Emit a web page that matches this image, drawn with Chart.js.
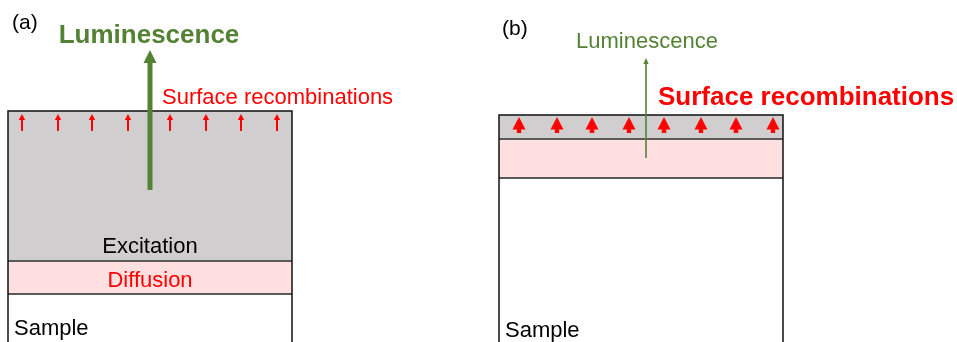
<!DOCTYPE html>
<html>
<head>
<meta charset="utf-8">
<script src="https://cdn.jsdelivr.net/npm/chart.js@4/dist/chart.umd.min.js"></script>
<style>
html,body{margin:0;padding:0;background:#fff;}
#wrap{width:957px;height:342px;}
</style>
</head>
<body>
<div id="wrap"><canvas id="c" width="957" height="342"></canvas></div>
<script>
// ---- diagram data (diagram units: x across, y depth from top) ----
const panelLabels = ['(a)', '(b)'];
const panelLeft = [8, 499];
const panelRight = [292, 783];
const excitationTop = [111, 115];
const excitationBottom = [261, 139];
const diffusionBottom = [294, 178];
const recombArrowX = [
  [22, 58, 92, 128, 170, 206, 241, 277],
  [519, 557, 592, 629, 664, 701, 736, 773]
];
const recombArrowTip = [114, 117];
const recombArrowBase = [131, 133];
const lumArrowX = [150, 646];
const lumArrowBase = [190, 158];
const lumArrowTip = [50, 58];
const layerNames = ['Excitation', 'Diffusion', 'Sample'];
const lumText = 'Luminescence';
const recombText = 'Surface recombinations';

const GREEN = '#548235', RED = '#ff0000', GRAY = '#d0cece', PINK = '#ffdfdf';
const FONT = "'Liberation Sans', Arial, sans-serif";

const diagram = {
  id: 'diagram',
  afterDatasetsDraw(chart) {
    const ctx = chart.ctx, sx = chart.scales.x, sy = chart.scales.y;
    const X = v => sx.getPixelForValue(v), Y = v => sy.getPixelForValue(v);
    const bottom = Y(342);
    ctx.save();
    for (let p = 0; p < 2; p++) {
      const l = X(panelLeft[p]), r = X(panelRight[p]);
      const t = Y(excitationTop[p]), eb = Y(excitationBottom[p]), db = Y(diffusionBottom[p]);
      // layers
      ctx.fillStyle = GRAY; ctx.fillRect(l, t, r - l, eb - t);
      ctx.fillStyle = PINK; ctx.fillRect(l, eb, r - l, db - eb);
      // separators
      ctx.strokeStyle = '#5a5a5a'; ctx.lineWidth = 1.8;
      ctx.beginPath(); ctx.moveTo(l, eb); ctx.lineTo(r, eb); ctx.moveTo(l, db); ctx.lineTo(r, db); ctx.stroke();
      // outline
      ctx.strokeStyle = '#111'; ctx.lineWidth = 1.5;
      ctx.beginPath(); ctx.moveTo(l, bottom + 2); ctx.lineTo(l, t); ctx.lineTo(r, t); ctx.lineTo(r, bottom + 2); ctx.stroke();

      // red recombination arrows
      ctx.fillStyle = RED; ctx.strokeStyle = RED;
      const tip = Y(recombArrowTip[p]), base = Y(recombArrowBase[p]);
      recombArrowX[p].forEach(v => {
        const x = X(v);
        if (p === 0) {
          ctx.fillRect(x - 1, tip + 4, 2, base - tip - 4);
          ctx.beginPath(); ctx.moveTo(x, tip); ctx.lineTo(x - 3.2, tip + 6); ctx.lineTo(x + 3.2, tip + 6); ctx.closePath(); ctx.fill();
        } else {
          ctx.fillRect(x - 2.2, tip + 10, 4.4, base - tip - 10);
          ctx.beginPath(); ctx.moveTo(x, tip); ctx.lineTo(x - 6.5, tip + 12.5); ctx.lineTo(x + 6.5, tip + 12.5); ctx.closePath(); ctx.fill();
        }
      });

      // luminescence arrow
      const gx = X(lumArrowX[p]), gb = Y(lumArrowBase[p]), gt = Y(lumArrowTip[p]);
      ctx.fillStyle = GREEN;
      if (p === 0) {
        ctx.fillRect(gx - 2.5, gt + 12, 5, gb - gt - 12);
        ctx.beginPath(); ctx.moveTo(gx, gt); ctx.lineTo(gx - 6.5, gt + 13); ctx.lineTo(gx + 6.5, gt + 13); ctx.closePath(); ctx.fill();
      } else {
        ctx.fillRect(gx - 0.8, gt + 4, 1.6, gb - gt - 4);
        ctx.beginPath(); ctx.moveTo(gx, gt); ctx.lineTo(gx - 2.6, gt + 6); ctx.lineTo(gx + 2.6, gt + 6); ctx.closePath(); ctx.fill();
      }
    }

    // texts
    ctx.textBaseline = 'alphabetic';
    const txt = (s, x, y, font, color, align) => {
      ctx.font = font; ctx.fillStyle = color; ctx.textAlign = align; ctx.fillText(s, X(x), Y(y));
    };
    txt(panelLabels[0], 12, 29, '21px ' + FONT, '#000', 'left');
    txt(panelLabels[1], 502, 35, '21px ' + FONT, '#000', 'left');
    txt(lumText, 149, 43, 'bold 26px ' + FONT, GREEN, 'center');
    txt(lumText, 647, 48, '22px ' + FONT, GREEN, 'center');
    txt(recombText, 162, 104, '22px ' + FONT, RED, 'left');
    txt(recombText, 658, 105, 'bold 26px ' + FONT, RED, 'left');
    txt(layerNames[0], 150, 253, '22px ' + FONT, '#000', 'center');
    txt(layerNames[1], 150, 287, '22px ' + FONT, RED, 'center');
    txt(layerNames[2], 14, 335, '22px ' + FONT, '#000', 'left');
    txt(layerNames[2], 505, 337, '22px ' + FONT, '#000', 'left');
    ctx.restore();
  }
};

new Chart(document.getElementById('c'), {
  type: 'scatter',
  data: { datasets: [{ data: [], pointRadius: 0 }] },
  options: {
    responsive: false,
    animation: false,
    layout: { padding: 0 },
    plugins: { legend: { display: false }, tooltip: { enabled: false } },
    scales: {
      x: { type: 'linear', min: 0, max: 957, display: false },
      y: { type: 'linear', min: 0, max: 342, reverse: true, display: false }
    }
  },
  plugins: [diagram]
});
</script>
</body>
</html>
